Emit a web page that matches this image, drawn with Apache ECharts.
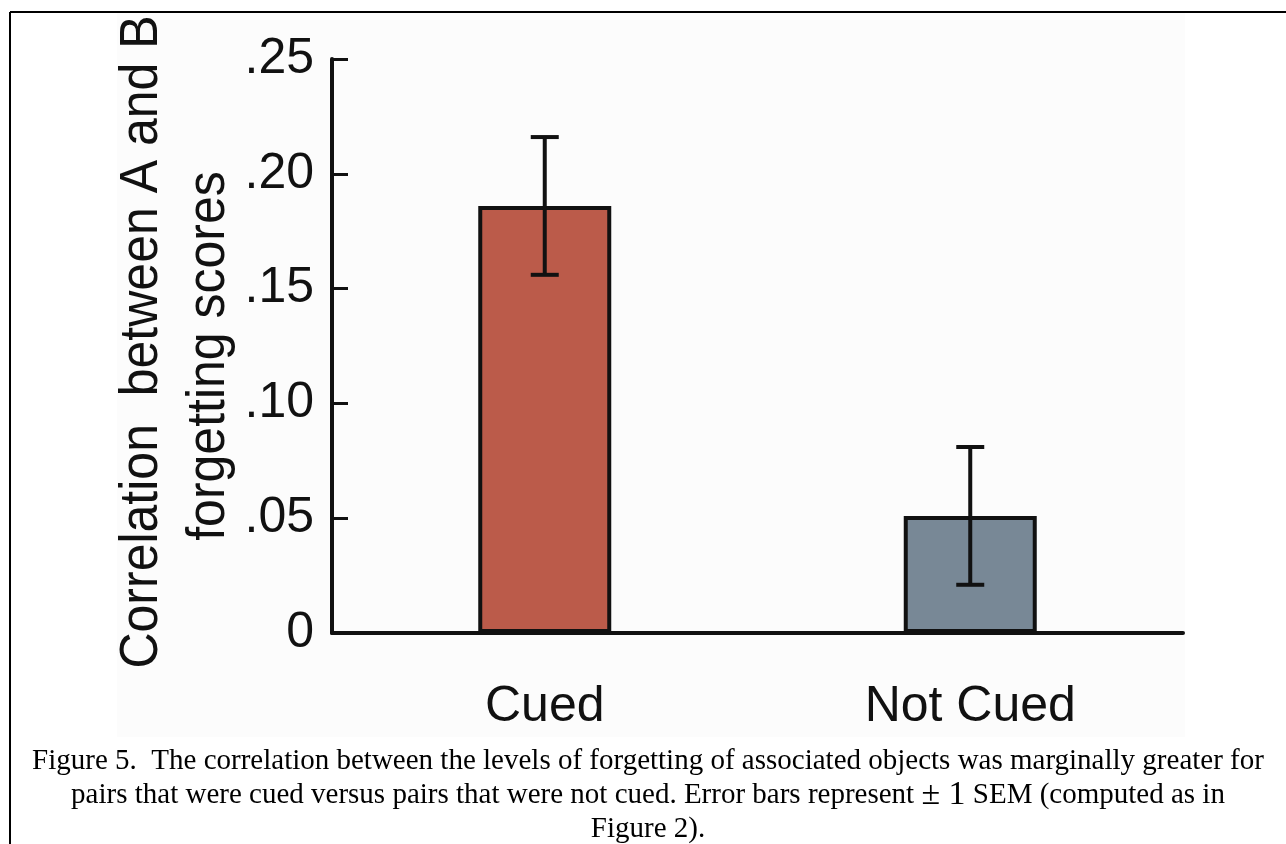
<!DOCTYPE html>
<html lang="en">
<head>
    <meta charset="UTF-8">
    <title>Figure 5</title>
    <style>
        html, body { margin: 0; padding: 0; background: #fff; }
        #chart { width: 1286px; height: 844px; }
    </style>
</head>
<body>
<div id="chart"></div>
<script src="https://cdn.jsdelivr.net/npm/echarts@6/dist/echarts.min.js"></script>
<script>
    // values
    var categories = ['Cued', 'Not Cued'];
    var means = [0.186, 0.051];
    var sems = [0.030, 0.030];
    var barColors = ['#bb5b4a', '#788896'];
    var yTicks = ['0', '.05', '.10', '.15', '.20', '.25'];

    var titleLines = ['Correlation  between A and B', 'forgetting scores'];
    var captionLines = [
        '{n|Figure 5.  The correlation between the levels of forgetting of associated objects was marginally greater for}',
        '{n|pairs that were cued versus pairs that were not cued. Error bars represent }{pm|\u00b1 1}{n| SEM (computed as in}',
        '{n|Figure 2).}'
    ];

    var sans = '"Liberation Sans", Arial, Helvetica, sans-serif';
    var serif = '"Liberation Serif", "Times New Roman", serif';

    var barData = [];
    for (var i = 0; i < categories.length; i++) {
        barData.push({
            value: means[i],
            itemStyle: { color: barColors[i] }
        });
    }
    var errData = [];
    for (var j = 0; j < categories.length; j++) {
        errData.push([j, means[j] - sems[j], means[j] + sems[j]]);
    }

    function renderError (params, api) {
        var lo = api.coord([api.value(0), api.value(1)]);
        var hi = api.coord([api.value(0), api.value(2)]);
        var half = 14;
        var style = { stroke: '#111', lineWidth: 4 };
        return {
            type: 'group',
            children: [
                { type: 'line', shape: { x1: hi[0], y1: hi[1], x2: lo[0], y2: lo[1] }, style: style },
                { type: 'line', shape: { x1: hi[0] - half, y1: hi[1], x2: hi[0] + half, y2: hi[1] }, style: style },
                { type: 'line', shape: { x1: lo[0] - half, y1: lo[1], x2: lo[0] + half, y2: lo[1] }, style: style }
            ]
        };
    }

    function titleText (str, x, y) {
        return {
            type: 'text',
            x: x,
            y: y,
            rotation: Math.PI / 2,
            scaleY: 1.08,
            style: {
                text: str,
                fill: '#111',
                font: '50px ' + sans,
                textAlign: 'center',
                textVerticalAlign: 'middle'
            }
        };
    }

    var chart = echarts.init(document.getElementById('chart'));
    var option = {
        backgroundColor: '#fff',
        animation: false,
        grid: {
            left: 332,
            right: 103,
            top: 59,
            bottom: 211
        },
        xAxis: {
            type: 'category',
            data: categories,
            axisLine: { lineStyle: { color: '#111', width: 4 } },
            axisTick: { show: false },
            axisLabel: {
                color: '#111',
                fontFamily: sans,
                fontSize: 50,
                margin: 49
            }
        },
        yAxis: {
            type: 'value',
            min: 0,
            max: 0.25,
            interval: 0.05,
            splitLine: { show: false },
            axisLine: { show: true, lineStyle: { color: '#111', width: 4 } },
            axisTick: { show: true, inside: true, length: 16, lineStyle: { color: '#111', width: 3 } },
            axisLabel: {
                color: '#111',
                fontFamily: sans,
                fontSize: 50,
                margin: 18,
                formatter: function (v) {
                    return yTicks[Math.round(v / 0.05)];
                }
            }
        },
        graphic: [
            {
                type: 'rect',
                z: -10,
                shape: { x: 117, y: 13, width: 1068, height: 724 },
                style: { fill: '#fcfcfc' }
            },
            {
                type: 'line',
                shape: { x1: 10, y1: 12, x2: 1286, y2: 12 },
                style: { stroke: '#000', lineWidth: 2 }
            },
            {
                type: 'line',
                shape: { x1: 10, y1: 12, x2: 10, y2: 844 },
                style: { stroke: '#000', lineWidth: 2 }
            },
            titleText(titleLines[0], 142, 342),
            titleText(titleLines[1], 209, 356),
            {
                type: 'text',
                x: 648,
                y: 795,
                style: {
                    text: captionLines.join('\n'),
                    fill: '#000',
                    fontFamily: serif,
                    fontSize: 29,
                    lineHeight: 34,
                    textAlign: 'center',
                    textVerticalAlign: 'middle',
                    rich: {
                        n: {
                            fontFamily: serif,
                            fontSize: 29,
                            lineHeight: 34,
                            fill: '#000'
                        },
                        pm: {
                            fontFamily: serif,
                            fontSize: 34,
                            lineHeight: 34,
                            fill: '#000'
                        }
                    }
                }
            }
        ],
        series: [
            {
                type: 'bar',
                data: barData,
                barWidth: 133,
                itemStyle: { borderColor: '#111', borderWidth: 4 },
                z: 2
            },
            {
                type: 'custom',
                renderItem: renderError,
                data: errData,
                encode: { x: 0, y: [1, 2] },
                z: 3
            }
        ]
    };
    chart.setOption(option);
</script>
</body>
</html>
